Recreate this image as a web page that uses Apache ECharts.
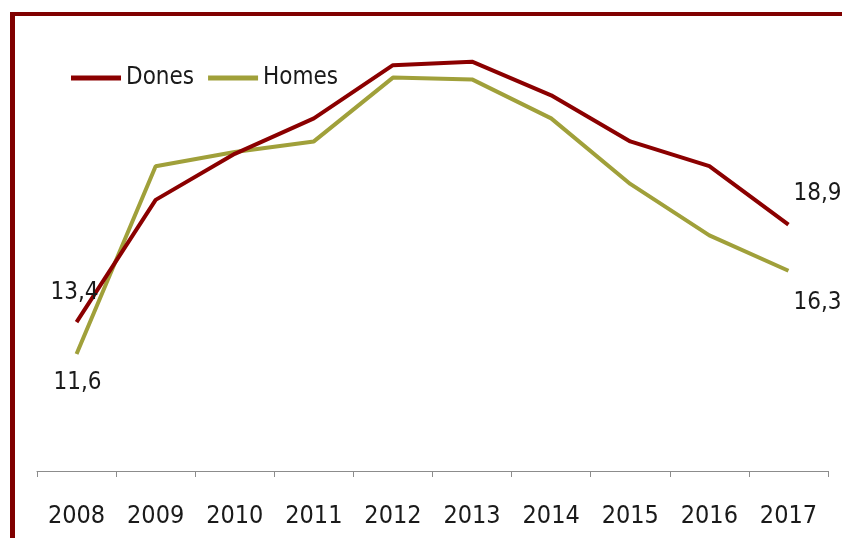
<!DOCTYPE html>
<html>
<head>
<meta charset="utf-8">
<script src="https://cdn.jsdelivr.net/npm/echarts@6/dist/echarts.min.js"></script>
<style>
  html, body { margin: 0; padding: 0; background: #fff; }
  #chart { width: 842px; height: 538px; }
</style>
</head>
<body>
<div id="chart"></div>
<script>
const years = ['2008','2009','2010','2011','2012','2013','2014','2015','2016','2017'];
const dones = [13.4, 20.3, 22.9, 24.9, 27.9, 28.1, 26.2, 23.6, 22.2, 18.9];
const homes = [11.6, 22.2, 23.0, 23.6, 27.2, 27.1, 24.9, 21.2, 18.3, 16.3];

const fontFam = '"Liberation Sans Narrow", "DejaVu Sans Condensed", sans-serif';
const fmt = v => v.toFixed(1).replace('.', ',');

function withEndLabels(vals, firstLbl, lastLbl) {
  return vals.map((v, i) => {
    if (i === 0) return { value: v, label: Object.assign({ show: true }, firstLbl) };
    if (i === vals.length - 1) return { value: v, label: Object.assign({ show: true }, lastLbl) };
    return v;
  });
}

const chart = echarts.init(document.getElementById('chart'));
chart.setOption({
  animation: false,
  textStyle: { fontFamily: fontFam },
  graphic: [
    { type: 'rect', shape: { x: 10, y: 12, width: 832, height: 4 }, style: { fill: '#800000' } },
    { type: 'rect', shape: { x: 10, y: 12, width: 5, height: 526 }, style: { fill: '#800000' } }
  ],
  legend: {
    left: 66, top: 61,
    itemWidth: 50, itemHeight: 5, itemGap: 14,
    icon: 'rect',
    textStyle: { fontSize: 24, color: '#1a1a1a', fontFamily: fontFam, padding: [0, 0, 0, 0] },
    data: ['Dones', 'Homes']
  },
  grid: { left: 37, right: 14, top: 28, bottom: 67 },
  xAxis: {
    type: 'category', data: years, boundaryGap: true,
    axisLine: { lineStyle: { color: '#8c8c8c', width: 1 } },
    axisTick: { show: true, length: 6, lineStyle: { color: '#8c8c8c' } },
    axisLabel: { fontSize: 25, color: '#1a1a1a', margin: 33, fontFamily: fontFam }
  },
  yAxis: {
    type: 'value', min: 5, max: 30, show: false,
    splitLine: { show: false }
  },
  series: [
    {
      name: 'Dones', type: 'line',
      data: withEndLabels(dones,
        { position: 'top', offset: [-2, -12] },
        { position: 'right', offset: [0, -31] }),
      symbol: 'circle', symbolSize: 0,
      lineStyle: { color: '#8b0000', width: 4 },
      itemStyle: { color: '#8b0000' },
      label: { formatter: p => fmt(p.value), fontSize: 24, color: '#1a1a1a', fontFamily: fontFam },
      z: 3
    },
    {
      name: 'Homes', type: 'line',
      data: withEndLabels(homes,
        { position: 'bottom', offset: [1, 12] },
        { position: 'right', offset: [0, 32] }),
      symbol: 'circle', symbolSize: 0,
      lineStyle: { color: '#a0a03a', width: 4 },
      itemStyle: { color: '#a0a03a' },
      label: { formatter: p => fmt(p.value), fontSize: 24, color: '#1a1a1a', fontFamily: fontFam },
      z: 2
    }
  ]
});
</script>
</body>
</html>
